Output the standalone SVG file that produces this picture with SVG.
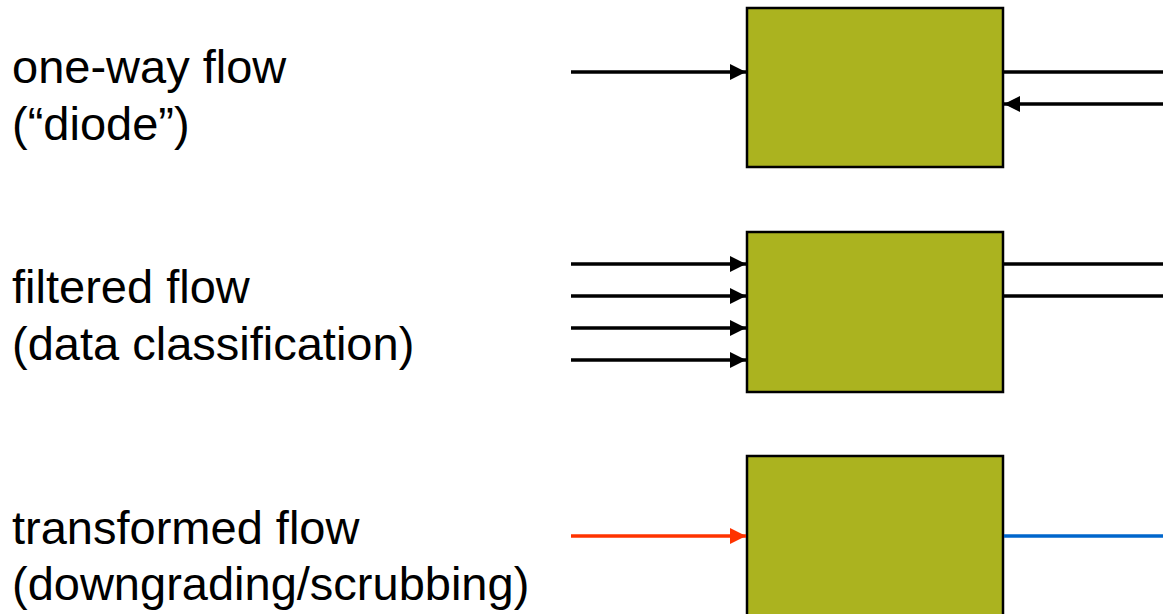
<svg xmlns="http://www.w3.org/2000/svg" width="1163" height="614" viewBox="0 0 1163 614">
  <style>
    .label { font-family: "Liberation Sans", Arial, sans-serif; font-size: 47px; fill: #000000; }
    .box { fill: #ABB31F; stroke: #000000; stroke-width: 2.5; }
    .flow { stroke: #000000; stroke-width: 3.5; fill: none; }
    .flow-red { stroke: #FF3300; stroke-width: 3.5; fill: none; }
    .flow-blue { stroke: #0066CC; stroke-width: 3.5; fill: none; }
  </style>
  <defs>
    <marker id="head" markerUnits="userSpaceOnUse" markerWidth="16" markerHeight="16" refX="16" refY="8" orient="auto">
      <path d="M0,0 L16,8 L0,16 z" fill="#000000"/>
    </marker>
    <marker id="head-red" markerUnits="userSpaceOnUse" markerWidth="16" markerHeight="16" refX="16" refY="8" orient="auto">
      <path d="M0,0 L16,8 L0,16 z" fill="#FF3300"/>
    </marker>
  </defs>

  <!-- labels -->
  <g id="label-oneway">
    <text class="label" x="12" y="83">one-way flow</text>
    <text class="label" x="12" y="140">(“diode”)</text>
  </g>
  <g id="label-filtered">
    <text class="label" x="12" y="303">filtered flow</text>
    <text class="label" x="12" y="360">(data classification)</text>
  </g>
  <g id="label-transformed">
    <text class="label" x="12" y="544">transformed flow</text>
    <text class="label" x="12" y="600">(downgrading/scrubbing)</text>
  </g>

  <!-- guard boxes -->
  <g id="box-oneway">
    <rect class="box" x="747" y="8" width="256" height="159"/>
  </g>
  <g id="box-filtered">
    <rect class="box" x="747" y="232" width="256" height="160"/>
  </g>
  <g id="box-transformed">
    <rect class="box" x="747" y="456" width="256" height="170"/>
  </g>

  <!-- connectors -->
  <g id="connectors">
    <!-- one-way -->
    <line class="flow" x1="571" y1="72" x2="746" y2="72" marker-end="url(#head)"/>
    <line class="flow" x1="1004" y1="72" x2="1163" y2="72"/>
    <line class="flow" x1="1163" y1="104" x2="1004" y2="104" marker-end="url(#head)"/>
    <!-- filtered -->
    <line class="flow" x1="571" y1="264" x2="746" y2="264" marker-end="url(#head)"/>
    <line class="flow" x1="571" y1="296" x2="746" y2="296" marker-end="url(#head)"/>
    <line class="flow" x1="571" y1="328" x2="746" y2="328" marker-end="url(#head)"/>
    <line class="flow" x1="571" y1="360" x2="746" y2="360" marker-end="url(#head)"/>
    <line class="flow" x1="1004" y1="264" x2="1163" y2="264"/>
    <line class="flow" x1="1004" y1="296" x2="1163" y2="296"/>
    <!-- transformed -->
    <line class="flow-red" x1="571" y1="536" x2="746" y2="536" marker-end="url(#head-red)"/>
    <line class="flow-blue" x1="1004" y1="536" x2="1163" y2="536"/>
  </g>
</svg>
